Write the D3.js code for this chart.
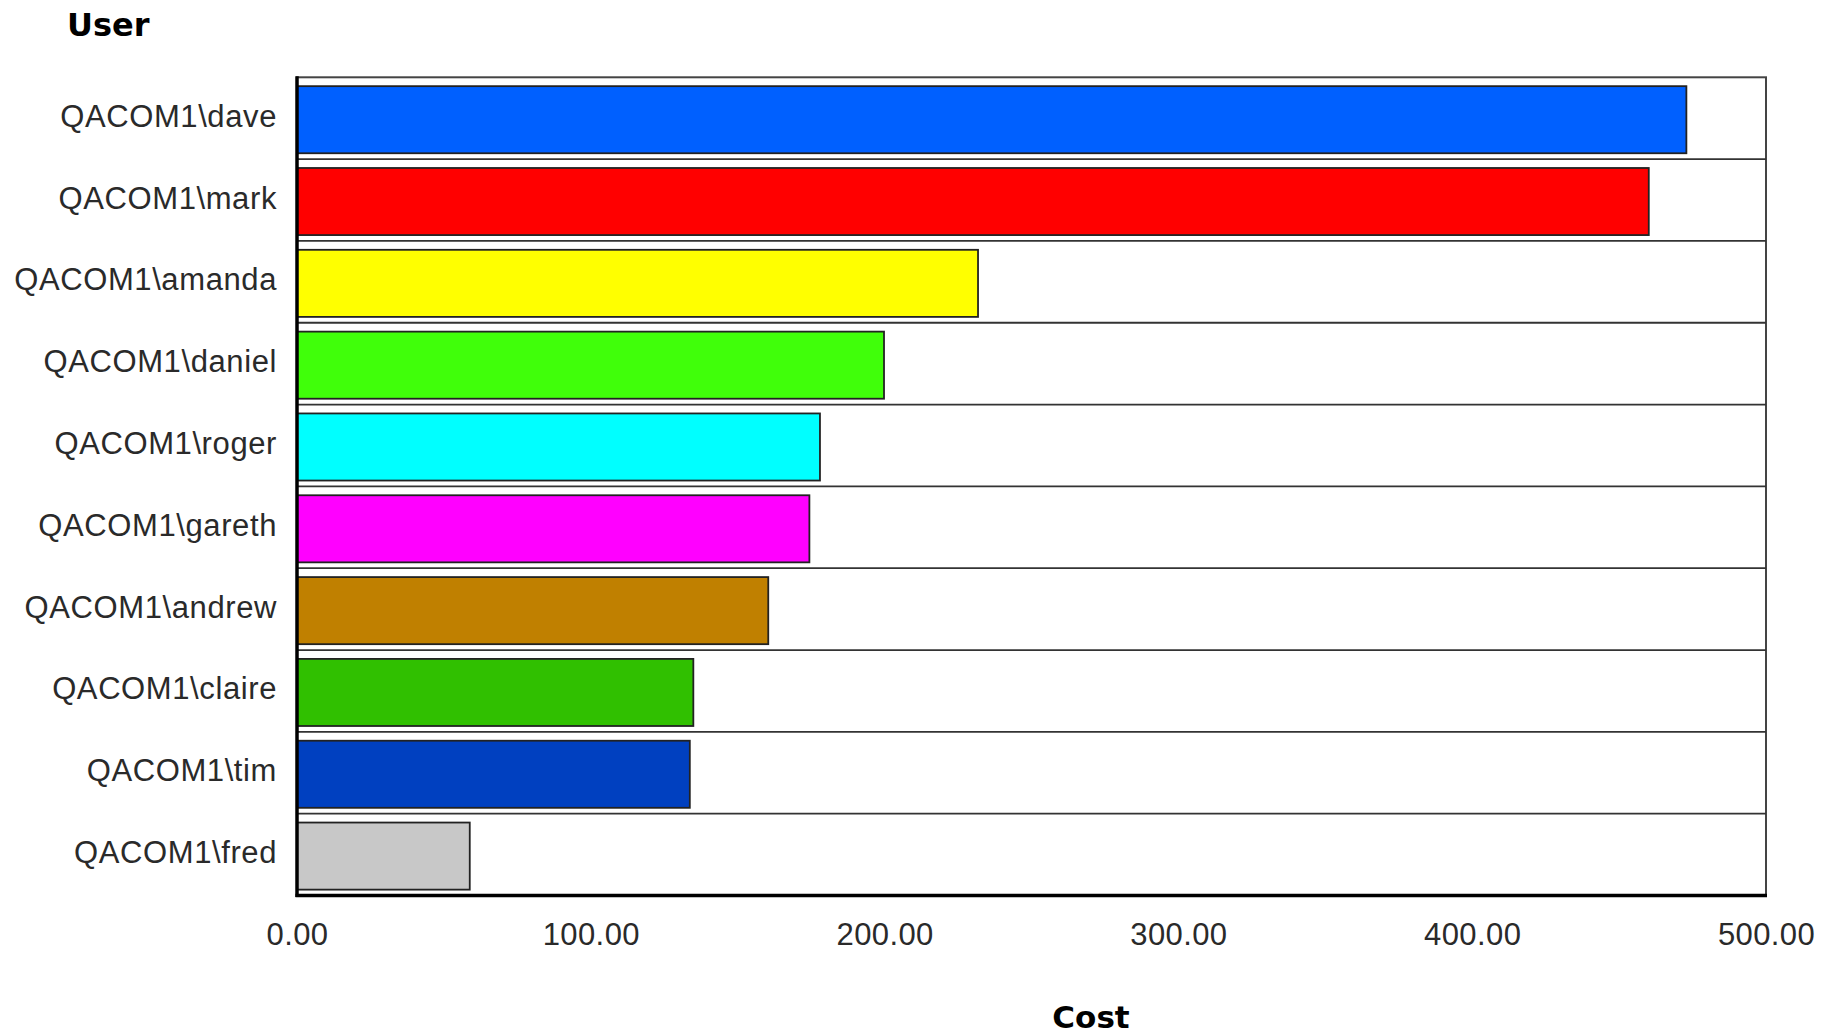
<!DOCTYPE html>
<html>
<head>
<meta charset="utf-8">
<script src="https://cdn.jsdelivr.net/npm/d3@7"></script>
<style>
  html, body { margin: 0; padding: 0; background: #fff; }
  svg { display: block; }
</style>
</head>
<body>
<svg id="chart" width="1837" height="1035"></svg>
<script>
const users = ["QACOM1\\dave", "QACOM1\\mark", "QACOM1\\amanda", "QACOM1\\daniel", "QACOM1\\roger",
               "QACOM1\\gareth", "QACOM1\\andrew", "QACOM1\\claire", "QACOM1\\tim", "QACOM1\\fred"];
const costs = [472.9, 460.1, 231.8, 199.8, 178.0, 174.4, 160.4, 134.9, 133.7, 58.8];
const colors = ["#0060ff", "#ff0000", "#ffff00", "#40ff0a", "#00ffff",
                "#ff00ff", "#c08000", "#30c000", "#0040c0", "#c8c8c8"];
const xTicks = [0, 100, 200, 300, 400, 500];
const yTitle = "User";
const xTitle = "Cost";

const svg = d3.select("#chart");
const m = { left: 297, right: 1766, top: 77.3, bottom: 895.5 };

const x = d3.scaleLinear().domain([0, 500]).range([m.left, m.right]);
const pad = 0.18;
const y = d3.scaleBand().domain(users).range([m.top, m.bottom])
  .paddingInner(pad).paddingOuter(pad / 2).align(0.5);
const step = y.step();
const barShift = 1.5;
const labelFont = "'Liberation Sans', Arial, sans-serif";
const titleFont = "'DejaVu Sans', Verdana, sans-serif";

// plot frame
svg.append("rect")
  .attr("x", m.left).attr("y", m.top)
  .attr("width", m.right - m.left).attr("height", m.bottom - m.top)
  .attr("fill", "#fff").attr("stroke", "#444").attr("stroke-width", 2);

// row separators
svg.append("g").selectAll("line")
  .data(users.slice(1))
  .join("line")
  .attr("x1", m.left).attr("x2", m.right)
  .attr("y1", d => y(d) - step * pad / 2)
  .attr("y2", d => y(d) - step * pad / 2)
  .attr("stroke", "#333").attr("stroke-width", 1.8);

// bars
svg.append("g").selectAll("rect")
  .data(users)
  .join("rect")
  .attr("x", x(0))
  .attr("y", d => y(d) + barShift)
  .attr("width", (d, i) => x(costs[i]) - x(0))
  .attr("height", y.bandwidth())
  .attr("fill", (d, i) => colors[i])
  .attr("stroke", "#222").attr("stroke-width", 1.8);

// axes lines (left and bottom, heavy)
svg.append("line").attr("x1", m.left).attr("x2", m.left)
  .attr("y1", m.top - 1).attr("y2", m.bottom + 1.5)
  .attr("stroke", "#000").attr("stroke-width", 3.5);
svg.append("line").attr("x1", m.left - 1.5).attr("x2", m.right + 1)
  .attr("y1", m.bottom).attr("y2", m.bottom)
  .attr("stroke", "#000").attr("stroke-width", 3.5);

// x axis tick labels
const xAxis = d3.axisBottom(x).tickValues(xTicks).tickFormat(d3.format(".2f"))
  .tickSize(0).tickPadding(0);
const gx = svg.append("g").attr("transform", `translate(0,${m.bottom})`).call(xAxis);
gx.select(".domain").remove();
gx.selectAll("text")
  .attr("dy", null).attr("y", 49)
  .attr("fill", "#2a2a2a")
  .style("font-family", labelFont).style("font-size", "31px")
  .style("letter-spacing", "0.4px");

// y axis labels
const yAxis = d3.axisLeft(y).tickSize(0).tickPadding(0);
const gy = svg.append("g").attr("transform", `translate(${m.left - 20},0)`).call(yAxis);
gy.select(".domain").remove();
gy.selectAll("text")
  .attr("dy", null).attr("y", 8.5)
  .attr("fill", "#2a2a2a")
  .style("font-family", labelFont).style("font-size", "31px")
  .style("letter-spacing", "0.6px");

// titles
svg.append("text").attr("x", 67).attr("y", 36)
  .style("font-family", titleFont).style("font-size", "32px").style("font-weight", "bold")
  .attr("fill", "#000")
  .text(yTitle);
svg.append("text").attr("x", 1091).attr("y", 1028)
  .attr("text-anchor", "middle")
  .style("font-family", titleFont).style("font-size", "31px").style("font-weight", "bold")
  .attr("fill", "#000")
  .text(xTitle);
</script>
</body>
</html>
